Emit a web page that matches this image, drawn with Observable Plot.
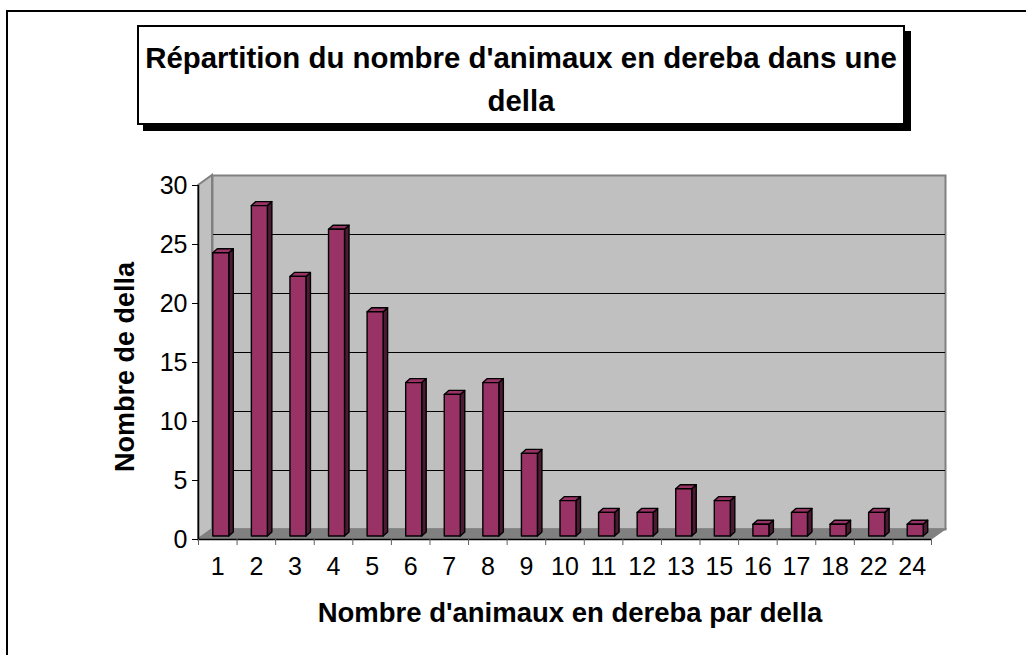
<!DOCTYPE html>
<html>
<head>
<meta charset="utf-8">
<script src="https://cdn.jsdelivr.net/npm/d3@7"></script>
<script src="https://cdn.jsdelivr.net/npm/@observablehq/plot@0.6"></script>
<style>
  html, body { margin: 0; padding: 0; background: #fff; overflow: hidden; }
  #page { position: relative; width: 1026px; height: 655px; overflow: hidden; font-family: "Liberation Sans", Arial, sans-serif; color: #000; }
  #outer { position: absolute; left: 6px; top: 10px; width: 1200px; height: 800px; border: 2px solid #000; }
  #titlebox { position: absolute; left: 137px; top: 25px; width: 764px; height: 87px; border: 2px solid #000; background: #fff;
    box-shadow: 6px 6px 0 #000; text-align: center; font-weight: bold; font-size: 29.4px; line-height: 43px; padding-top: 9px; box-sizing: content-box; }
  #ylabel { position: absolute; left: 125px; top: 367px; transform: translate(-50%, -50%) rotate(-90deg); font-weight: bold; font-size: 27px; white-space: nowrap; }
  #xlabel { position: absolute; left: 570px; top: 613px; transform: translate(-50%, -50%); font-weight: bold; font-size: 27.5px; white-space: nowrap; }
  #chart { position: absolute; left: 0; top: 0; }
</style>
</head>
<body>
<div id="page">
  <div id="outer"></div>
  <div id="chart"></div>
  <div id="titlebox"></div>
  <div id="ylabel"></div>
  <div id="xlabel"></div>
</div>
<script>
// ---- data ----
const titleLines = ["Répartition du nombre d'animaux en dereba dans une", "della"];
const yTitle = "Nombre de della";
const xTitle = "Nombre d'animaux en dereba par della";
const categories = ["1","2","3","4","5","6","7","8","9","10","11","12","13","15","16","17","18","22","24"];
const counts = [24, 28, 22, 26, 19, 13, 12, 13, 7, 3, 2, 2, 4, 3, 1, 2, 1, 2, 1];
const yTicks = [0, 5, 10, 15, 20, 25, 30];

const rows = categories.map((c, i) => ({cat: c, i, n: counts[i]}));

document.getElementById("titlebox").innerHTML = titleLines.join("<br>");
document.getElementById("ylabel").textContent = yTitle;
document.getElementById("xlabel").textContent = xTitle;

// 3D look parameters (pixels)
const D = 14, E = 10;          // wall depth offset
const BW = 16, BD = 4.5, BE = 4; // bar width and bar depth
const BSX = 3.5, BSY = 3;       // bar placement inside depth

const pts = a => a.map(p => p.join(",")).join(" ");

function wallsMark(index, scales) {
  const x = scales.x, y = scales.y;
  const x0 = x(0), x1 = x(categories.length), y0 = y(0), yT = y(yTicks[yTicks.length - 1]);
  const g = d3.create("svg:g");
  g.append("polygon").attr("points", pts([[x0, y0], [x1, y0], [x1 + D, y0 - E], [x0 + D, y0 - E]]))
    .attr("fill", "#808080").attr("stroke", "#808080").attr("stroke-width", 1.5);
  g.append("polygon").attr("points", pts([[x0, yT], [x0 + D, yT - E], [x0 + D, y0 - E], [x0, y0]]))
    .attr("fill", "#c0c0c0").attr("stroke", "#808080").attr("stroke-width", 2);
  return g.node();
}

function barsMark(index, scales) {
  const x = scales.x, y = scales.y;
  const g = d3.create("svg:g").attr("stroke", "#000").attr("stroke-width", 1.4).attr("stroke-linejoin", "round");
  for (const d of rows) {
    const cx = x(d.i + 0.5) + BSX;
    const xl = cx - BW / 2, xr = cx + BW / 2;
    const yb = y(0) - BSY, yt = y(d.n) - BSY;
    g.append("polygon").attr("points", pts([[xr, yt], [xr + BD, yt - BE], [xr + BD, yb - BE], [xr, yb]])).attr("fill", "#4d1a33");
    g.append("polygon").attr("points", pts([[xl, yt], [xr, yt], [xr + BD, yt - BE], [xl + BD, yt - BE]])).attr("fill", "#993366");
    g.append("rect").attr("x", xl).attr("y", yt).attr("width", BW).attr("height", yb - yt).attr("fill", "#993366");
  }
  return g.node();
}

const chart = Plot.plot({
  width: 1026,
  height: 655,
  marginLeft: 198,
  marginRight: 95,
  marginTop: 185,
  marginBottom: 116,
  style: {background: "transparent", fontFamily: "'Liberation Sans', Arial, sans-serif", fontSize: "25px", color: "#000", overflow: "visible"},
  x: {type: "linear", domain: [0, categories.length]},
  y: {domain: [0, 30]},
  marks: [
    Plot.frame({fill: "#c0c0c0", stroke: "#808080", strokeWidth: 2, dx: D, dy: -E}),
    Plot.gridY(yTicks.filter(t => t > 0 && t < 30), {stroke: "#000", strokeOpacity: 1, strokeWidth: 1.2, dx: D, dy: -E}),
    wallsMark,
    barsMark,
    Plot.ruleX([0], {stroke: "#000", strokeWidth: 1.5}),
    Plot.ruleY([0], {stroke: "#000", strokeWidth: 1.5}),
    Plot.axisY({ticks: yTicks, tickSize: 6, tickPadding: 5, label: null, fontSize: 25, stroke: "#000"}),
    Plot.axisX({ticks: d3.range(categories.length + 1), tickSize: 6, tickFormat: () => "", label: null, stroke: "#606060"}),
    Plot.axisX({ticks: rows.map(d => d.i + 0.5), tickSize: 0, tickPadding: 18, tickFormat: t => categories[Math.floor(t)], label: null, fontSize: 25})
  ]
});
document.getElementById("chart").appendChild(chart);
</script>
</body>
</html>
